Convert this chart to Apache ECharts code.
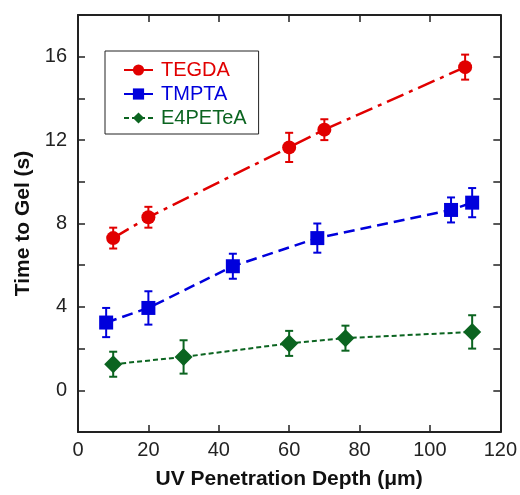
<!DOCTYPE html>
<html>
<head>
<meta charset="utf-8">
<script src="https://cdn.jsdelivr.net/npm/echarts@6/dist/echarts.min.js"></script>
<style>
  html, body { margin: 0; padding: 0; background: #fff; }
  #chart { width: 520px; height: 495px; }
</style>
</head>
<body>
<div id="chart"></div>
<script>
// Gel time vs. UV penetration depth for three acrylate monomers
const depthTEGDA = [10, 20, 60, 70, 110];
const timeTEGDA  = [7.3, 8.3, 11.65, 12.5, 15.5];
const errTEGDA   = [0.5, 0.5, 0.7, 0.5, 0.6];

const depthTMPTA = [8, 20, 44, 68, 106, 112];
const timeTMPTA  = [3.25, 3.95, 5.95, 7.3, 8.65, 9.0];
const errTMPTA   = [0.7, 0.8, 0.6, 0.7, 0.6, 0.7];

const depthE4 = [10, 30, 60, 76, 112];
const timeE4  = [1.25, 1.6, 2.25, 2.5, 2.8];
const errE4   = [0.6, 0.8, 0.6, 0.6, 0.8];

const xTicks = [0, 20, 40, 60, 80, 100, 120];
const yLabelTicks = [0, 4, 8, 12, 16];

const RED = '#e10000', BLUE = '#0000dc', GREEN = '#0b6420';
const FONT = '"Liberation Sans", Arial, sans-serif';

function pairs(xs, ys) { return xs.map((x, i) => [x, ys[i]]); }
function triples(xs, ys, es) { return xs.map((x, i) => [x, ys[i], es[i]]); }

function errorBars(name, color, data) {
  return {
    name: name,
    type: 'custom',
    z: 2,
    silent: true,
    data: data,
    renderItem: function (params, api) {
      const x = api.value(0), y = api.value(1), e = api.value(2);
      const hi = api.coord([x, y + e]);
      const lo = api.coord([x, y - e]);
      const cap = 4;
      const style = { stroke: color, lineWidth: 2 };
      return {
        type: 'group',
        children: [
          { type: 'line', shape: { x1: hi[0], y1: hi[1], x2: lo[0], y2: lo[1] }, style: style },
          { type: 'line', shape: { x1: hi[0] - cap, y1: hi[1], x2: hi[0] + cap, y2: hi[1] }, style: style },
          { type: 'line', shape: { x1: lo[0] - cap, y1: lo[1], x2: lo[0] + cap, y2: lo[1] }, style: style }
        ]
      };
    }
  };
}

const chart = echarts.init(document.getElementById('chart'), null, { renderer: 'canvas' });

const axisLine = { show: true, onZero: false, lineStyle: { color: '#222', width: 2 } };
const axisTick = { show: true, inside: true, length: 7, lineStyle: { color: '#222', width: 1.5 } };

chart.setOption({
  animation: false,
  backgroundColor: '#fff',
  grid: { left: 78, right: 19, top: 15, bottom: 59, containLabel: false },
  legend: {
    orient: 'vertical',
    left: 105,
    top: 51,
    padding: [9, 12, 6, 18],
    itemGap: 4,
    itemWidth: 29,
    itemHeight: 14,
    borderColor: '#222',
    borderWidth: 1,
    textStyle: { fontFamily: FONT, fontSize: 20, padding: [0, 0, 0, 3] },
    data: [
      { name: 'TEGDA', lineStyle: { type: 'solid' }, textStyle: { color: RED } },
      { name: 'TMPTA', lineStyle: { type: 'solid' }, textStyle: { color: BLUE } },
      { name: 'E4PETeA', lineStyle: { type: [5, 3] }, textStyle: { color: GREEN } }
    ]
  },
  xAxis: [
    {
      type: 'value', min: 0, max: 120, interval: 20,
      name: 'UV Penetration Depth (\u03bcm)',
      nameLocation: 'middle', nameGap: 37,
      nameTextStyle: { fontFamily: FONT, fontSize: 21, fontWeight: 'bold', color: '#111' },
      axisLine: axisLine,
      axisTick: axisTick,
      axisLabel: {
        fontFamily: FONT, fontSize: 20, color: '#222', margin: 8,
        formatter: v => xTicks.includes(v) ? String(v) : ''
      },
      splitLine: { show: false }
    },
    {
      type: 'value', min: 0, max: 120, interval: 20, position: 'top',
      axisLine: axisLine,
      axisTick: axisTick,
      axisLabel: { show: false },
      splitLine: { show: false }
    }
  ],
  yAxis: [
    {
      type: 'value', min: -2, max: 18, interval: 2,
      name: 'Time to Gel (s)',
      nameLocation: 'middle', nameGap: 44,
      nameTextStyle: { fontFamily: FONT, fontSize: 21, fontWeight: 'bold', color: '#111' },
      axisLine: axisLine,
      axisTick: axisTick,
      axisLabel: {
        fontFamily: FONT, fontSize: 20, color: '#222', margin: 11,
        formatter: v => yLabelTicks.includes(v) ? String(v) : ''
      },
      splitLine: { show: false }
    },
    {
      type: 'value', min: -2, max: 18, interval: 2, position: 'right',
      axisLine: axisLine,
      axisTick: axisTick,
      axisLabel: { show: false },
      splitLine: { show: false }
    }
  ],
  series: [
    errorBars('TEGDA err', RED, triples(depthTEGDA, timeTEGDA, errTEGDA)),
    errorBars('TMPTA err', BLUE, triples(depthTMPTA, timeTMPTA, errTMPTA)),
    errorBars('E4PETeA err', GREEN, triples(depthE4, timeE4, errE4)),
    {
      name: 'TEGDA', type: 'line', z: 3,
      data: pairs(depthTEGDA, timeTEGDA),
      symbol: 'circle', symbolSize: 14,
      itemStyle: { color: RED },
      lineStyle: { color: RED, width: 2.5, type: [18, 6, 4, 6] }
    },
    {
      name: 'TMPTA', type: 'line', z: 3,
      data: pairs(depthTMPTA, timeTMPTA),
      symbol: 'rect', symbolSize: 14,
      itemStyle: { color: BLUE },
      lineStyle: { color: BLUE, width: 2.5, type: [11, 6] }
    },
    {
      name: 'E4PETeA', type: 'line', z: 3,
      data: pairs(depthE4, timeE4),
      symbol: 'diamond', symbolSize: 18,
      itemStyle: { color: GREEN },
      lineStyle: { color: GREEN, width: 2, type: [5, 3] }
    }
  ]
});
</script>
</body>
</html>
